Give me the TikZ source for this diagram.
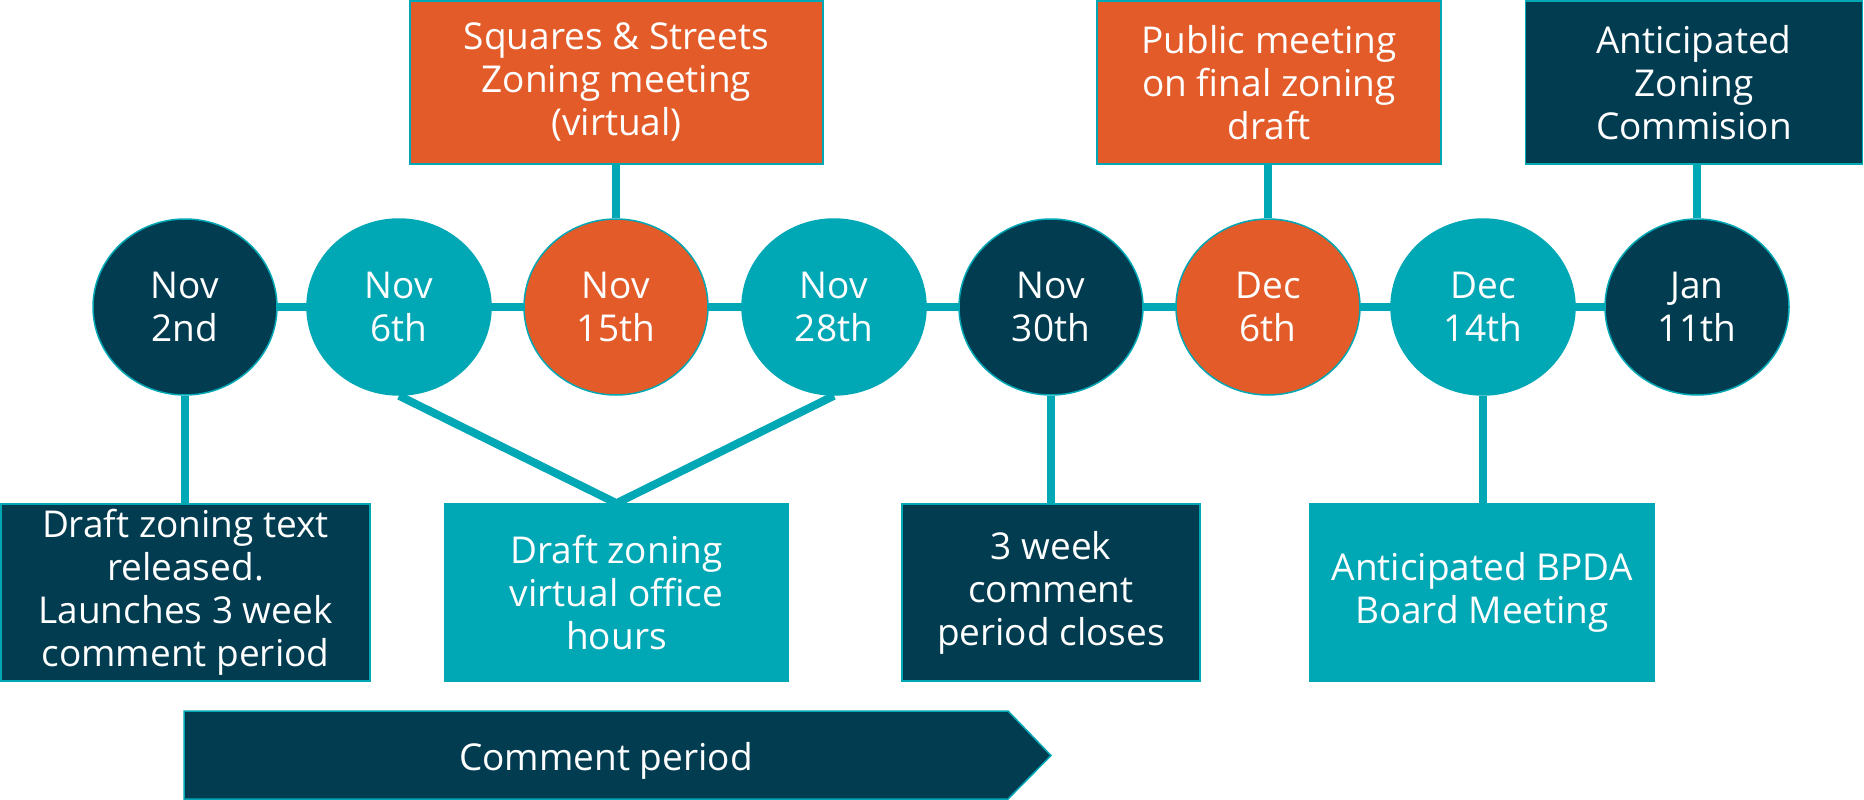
\documentclass[tikz,border=0pt]{standalone}
\usepackage{fontspec}
\setmainfont{Open Sans}
\usetikzlibrary{shapes.geometric,backgrounds}
\definecolor{navy}{RGB}{2,60,80}
\definecolor{tealc}{RGB}{0,167,181}
\definecolor{orng}{RGB}{226,91,41}
\begin{document}
\begin{tikzpicture}[x=1pt,y=-1pt,
  every node/.style={font=\fontsize{37}{43}\selectfont, text=white, align=center, inner sep=0pt},
  datenode/.style={ellipse, minimum width=184pt, minimum height=176pt, draw=tealc, line width=1.5pt},
  boxnode/.style={rectangle, draw=tealc, line width=1.5pt, execute at begin node={\rule{0pt}{38pt}}},
  topbox/.style={boxnode, minimum height=163pt},
  lowbox/.style={boxnode, minimum height=177pt},
  conn/.style={draw=tealc, line width=8pt}]
\useasboundingbox (0,0) rectangle (1864,800);

% date ellipses
\node[datenode, fill=navy]  (e1) at (185,307)  {Nov\\2nd};
\node[datenode, fill=tealc] (e2) at (399,307)  {Nov\\6th};
\node[datenode, fill=orng]  (e3) at (616,307)  {Nov\\15th};
\node[datenode, fill=tealc] (e4) at (834,307)  {Nov\\28th};
\node[datenode, fill=navy]  (e5) at (1051,307) {Nov\\30th};
\node[datenode, fill=orng]  (e6) at (1268,307) {Dec\\6th};
\node[datenode, fill=tealc] (e7) at (1483,307) {Dec\\14th};
\node[datenode, fill=navy]  (e8) at (1697,307) {Jan\\11th};

% top boxes
\node[topbox, fill=orng, minimum width=413pt] (t3) at (616.5,82.5) {Squares \& Streets\\Zoning meeting\\(virtual)};
\node[topbox, fill=orng, minimum width=344pt] (t6) at (1269,82.5) {Public meeting\\on final zoning\\draft};
\node[topbox, fill=navy, minimum width=337pt] (t8) at (1694,82.5) {Anticipated\\Zoning\\Commision};

% bottom boxes
\node[lowbox, fill=navy,  minimum width=369pt] (b1) at (185.5,592.5) {Draft zoning text\\released.\\Launches 3 week\\comment period};
\node[lowbox, fill=tealc, minimum width=343pt] (b3) at (616.5,592.5) {Draft zoning\\virtual office\\hours};
\node[lowbox, fill=navy,  minimum width=298pt] (b5) at (1051,592.5) {3 week\\comment\\period closes};
\node[lowbox, fill=tealc, minimum width=344pt] (b7) at (1482,592.5) {Anticipated BPDA\\Board Meeting};

% comment period arrow
\path[draw=tealc, line width=1.5pt, fill=navy] (184,711) -- (1008,711) -- (1051,755.5) -- (1008,799) -- (184,799) -- cycle;
\node (cp) at (606,761) {Comment period};

\begin{scope}[on background layer]
  \draw[conn] (e1.center) -- (e8.center);
  \draw[conn] (e3.north) -- (e3.north |- t3.south);
  \draw[conn] (e6.north) -- (e6.north |- t6.south);
  \draw[conn] (e8.north) -- (e8.north |- t8.south);
  \draw[conn] (e1.south) -- (e1.south |- b1.north);
  \draw[conn] (e5.south) -- (e5.south |- b5.north);
  \draw[conn] (e7.south) -- (e7.south |- b7.north);
  \draw[conn] (e2.south) -- (b3.north) -- (e4.south);
\end{scope}
\end{tikzpicture}
\end{document}
